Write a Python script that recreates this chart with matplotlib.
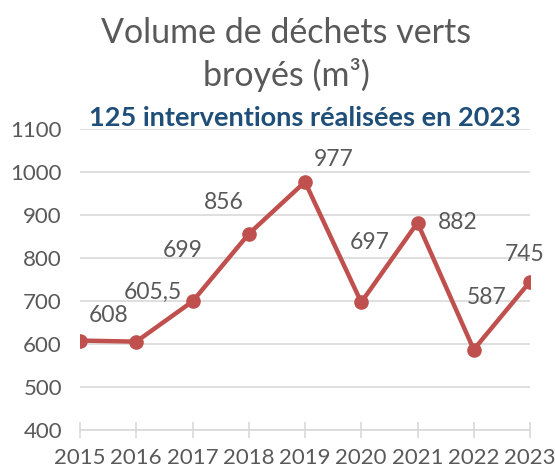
import matplotlib
matplotlib.use("Agg")
import matplotlib.pyplot as plt

plt.rcParams['font.family'] = ['Lato', 'DejaVu Sans']

years = [2015, 2016, 2017, 2018, 2019, 2020, 2021, 2022, 2023]
volumes = [608, 605.5, 699, 856, 977, 697, 882, 587, 745]
labels = ['608', '605,5', '699', '856', '977', '697', '882', '587', '745']
# label offsets in pixels (dx, dy) relative to each point, dy upwards
offsets = [(29, 25), (17, 49), (-10, 51), (-25, 31), (29, 22),
           (8, 60), (40, 0), (13, 52), (-5, 27)]

gray = '#595959'
red = '#C0504D'

fig = plt.figure(figsize=(5.55, 4.70), dpi=100)
ax = fig.add_axes([80 / 555, 1 - 430 / 470, 450 / 555, 301 / 470])

ax.plot(years, volumes, color=red, lw=3.2, marker='o', ms=9.5, zorder=3,
        solid_capstyle='round')
for x, y, t, (dx, dy) in zip(years, volumes, labels, offsets):
    ax.annotate(t, (x, y), xytext=(dx, dy), textcoords='offset pixels',
                ha='center', va='center', fontsize=16.5, color=gray)

ax.set_xlim(2015, 2023)
ax.set_ylim(400, 1100)
ax.set_yticks(range(400, 1101, 100))
ax.set_xticks(years)
ax.grid(axis='y', color='#D9D9D9', lw=1.2)
ax.set_axisbelow(True)
for s in ['top', 'right', 'left']:
    ax.spines[s].set_visible(False)
ax.spines['bottom'].set_color('#D9D9D9')
ax.spines['bottom'].set_linewidth(1.2)
ax.tick_params(axis='y', length=0, labelsize=16, labelcolor=gray, pad=13)
ax.tick_params(axis='x', direction='inout', length=12, width=1.2, color='#D9D9D9',
               labelsize=16, labelcolor=gray, pad=7)

fig.text(286 / 555, 1 - 33 / 470, 'Volume de déchets verts', ha='center', va='center',
         fontsize=24.5, color=gray)
fig.text(286 / 555, 1 - 75 / 470, 'broyés (m³)', ha='center', va='center',
         fontsize=24.5, color=gray)
fig.text(305 / 555, 1 - 118 / 470, '125 interventions réalisées en 2023', ha='center',
         va='center', fontsize=19.5, color='#1F4E79', fontweight='bold')

fig.savefig('out.png', dpi=100)
